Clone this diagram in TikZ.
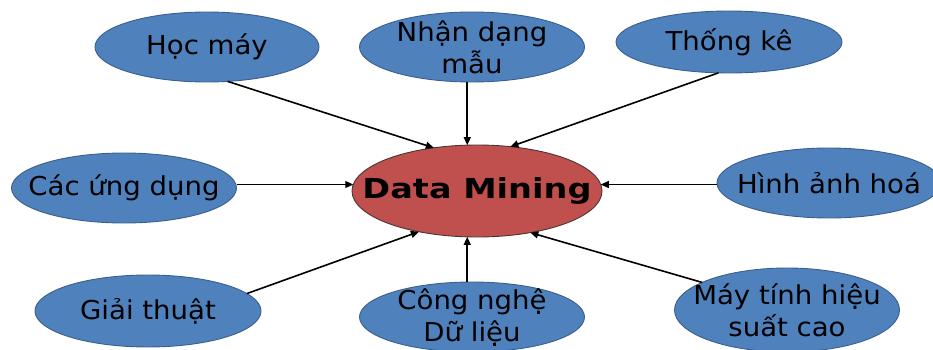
\documentclass[tikz,border=0pt]{standalone}
\usepackage{fontspec}
\setmainfont{DejaVu Sans}
\newfontfamily\bubfont{DejaVu Sans}[FakeStretch=1.06]
\newfontfamily\corefont{DejaVu Sans}[FakeStretch=1.22]
\usetikzlibrary{shapes.geometric,arrows.meta}
\definecolor{bubfill}{HTML}{4F81BD}
\definecolor{bubline}{HTML}{3A5F8C}
\definecolor{corefill}{HTML}{C0504D}
\definecolor{coreline}{HTML}{4A3535}
\begin{document}
\begin{tikzpicture}[x=1pt,y=-1pt,
  bubtext/.style={font=\bubfont\fontsize{26}{32}\selectfont, align=center, inner sep=0pt, text=black},
  coretext/.style={font=\corefont\bfseries\fontsize{27.5}{32}\selectfont, inner sep=0pt, text=black},
  bub/.style={ellipse, draw=bubline, line width=0.9pt, fill=bubfill, inner sep=0pt, outer sep=0pt,
    minimum width=224pt, minimum height=70pt, label={[bubtext]center:{#1}}},
  core/.style={ellipse, draw=coreline, line width=0.9pt, fill=corefill, inner sep=0pt, outer sep=0pt,
    minimum width=250pt, minimum height=92pt, label={[coretext]center:{#1}}},
  link/.style={line width=1.6pt, -{Triangle[length=8pt,width=7pt]}},
  thin link/.style={link, line width=1.1pt}]
\useasboundingbox (0,0) rectangle (933,350);
\clip (0,0) rectangle (933,350);

% outer topics
\node[bub={Học máy}] (hoc) at (207,47) {};
\node[bub={Nhận dạng\\mẫu}, minimum width=225pt] (nhan) at (472,47) {};
\node[bub={Thống kê}, minimum width=226pt, minimum height=62pt] (thong) at (729,42) {};
\node[bub={Các ứng dụng}, minimum width=225pt] (cac) at (124,188) {};
\node[bub={Hình ảnh hoá}] (hinh) at (829,183) {};
\node[bub={Giải thuật}, minimum width=226pt, minimum height=72pt] (giai) at (148,311) {};
\node[bub={Công nghệ\\Dữ liệu}, minimum width=225pt] (cong) at (472,317) {};
\node[bub={Máy tính hiệu\\suất cao}, minimum width=225pt, minimum height=84pt] (may) at (787,310) {};

% central topic
\node[core={Data Mining}] (dm) at (477,191) {};

% arrows into the centre
\draw[link] (hoc.-59) -- (dm.135);
\draw[link] (dm.102 |- nhan.south) -- (dm.102);
\draw[link] (thong.-109) -- (dm.53);
\draw[thin link] (dm.177 -| cac.east) -- (dm.177);
\draw[thin link] (dm.3 -| hinh.west) -- (dm.3);
\draw[link] (giai.10) -- (dm.-145);
\draw[link] (dm.-102 |- cong.north) -- (dm.-102);
\draw[link] (may.162) -- (dm.-38);
\end{tikzpicture}
\end{document}
